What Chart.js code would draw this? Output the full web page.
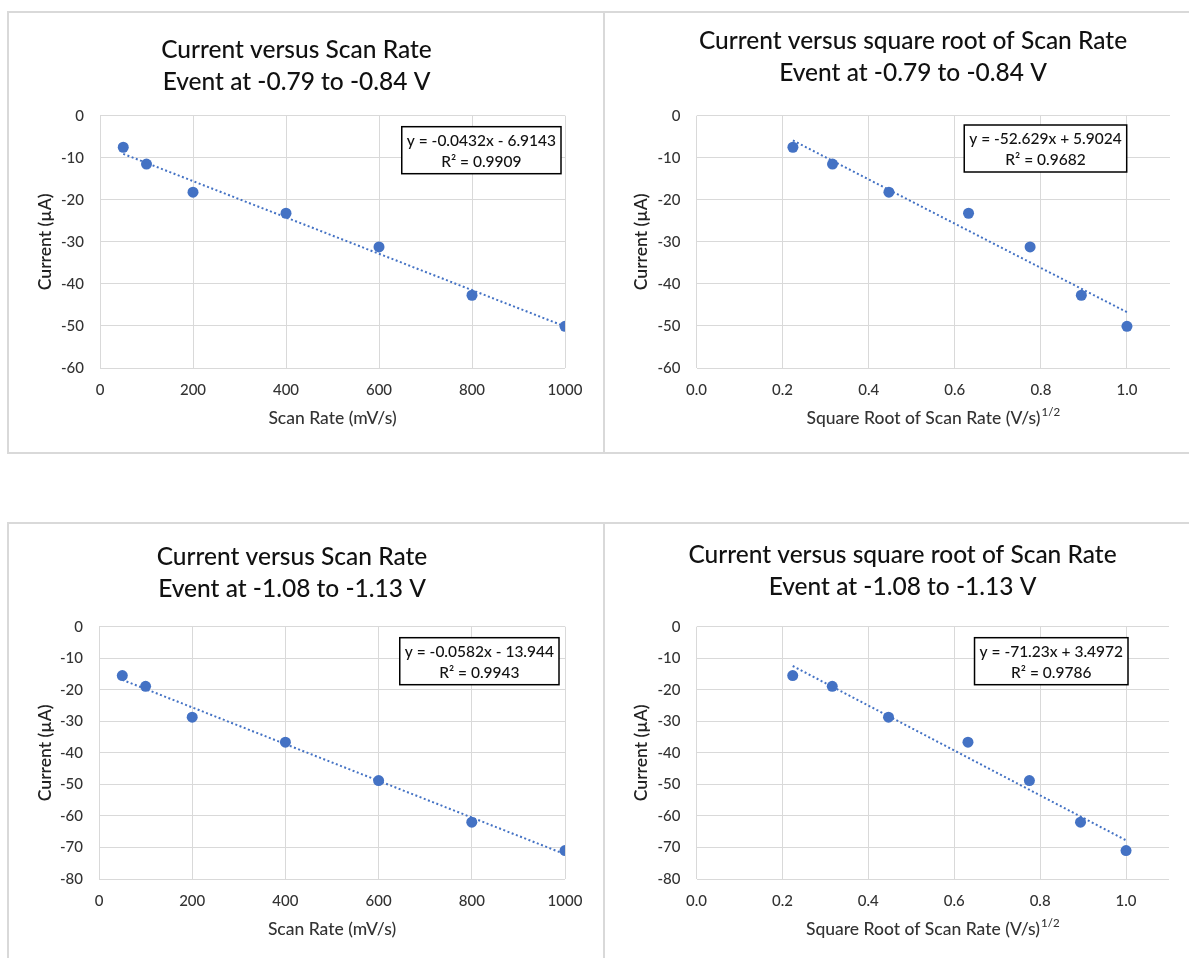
<!DOCTYPE html>
<html>
<head>
<meta charset="utf-8">
<script src="https://cdn.jsdelivr.net/npm/chart.js@4.4.1/dist/chart.umd.min.js"></script>
<style>
  html, body { margin: 0; padding: 0; background: #fff; width: 1189px; height: 958px; overflow: hidden; position: relative; }
  .panel { position: absolute; box-sizing: border-box; border: 2px solid #d9d9d9; background: #fff; }
  canvas { position: absolute; }
</style>
</head>
<body>
<div class="panel" style="left:7px; top:11px; width:598px; height:443px;"></div>
<div class="panel" style="left:603px; top:11px; width:700px; height:443px;"></div>
<div class="panel" style="left:7px; top:522px; width:598px; height:500px;"></div>
<div class="panel" style="left:603px; top:522px; width:700px; height:500px;"></div>

<canvas id="chartTL" width="577" height="436" style="left:8px; top:14px;"></canvas>
<canvas id="chartTR" width="594" height="436" style="left:616px; top:14px;"></canvas>
<canvas id="chartBL" width="584" height="436" style="left:0px; top:525px;"></canvas>
<canvas id="chartBR" width="613" height="436" style="left:596px; top:525px;"></canvas>

<script>
// data
const scanRates = [50, 100, 200, 400, 600, 800, 1000];              // mV/s
const sqrtScanRates = [0.224, 0.316, 0.447, 0.632, 0.775, 0.894, 1.0]; // (V/s)^1/2
const currentEvent1 = [-7.5, -11.5, -18.2, -23.2, -31.2, -42.7, -50.1];
const currentEvent2 = [-15.5, -18.9, -28.7, -36.6, -48.8, -62.0, -71.0];

// trendline equations shown on the charts
const fitScan1 = [-0.0432, -6.9143];
const fitSqrt1 = [-52.629, 5.9024];
const fitScan2 = [-0.0582, -13.944];
const fitSqrt2 = [-71.23, 3.4972];

const eqScan1 = ['y = -0.0432x - 6.9143', 'R² = 0.9909'];
const eqSqrt1 = ['y = -52.629x + 5.9024', 'R² = 0.9682'];
const eqScan2 = ['y = -0.0582x - 13.944', 'R² = 0.9943'];
const eqSqrt2 = ['y = -71.23x + 3.4972', 'R² = 0.9786'];

const titleScan1 = ['Current versus Scan Rate', 'Event at -0.79 to -0.84 V'];
const titleSqrt1 = ['Current versus square root of Scan Rate', 'Event at -0.79 to -0.84 V'];
const titleScan2 = ['Current versus Scan Rate', 'Event at -1.08 to -1.13 V'];
const titleSqrt2 = ['Current versus square root of Scan Rate', 'Event at -1.08 to -1.13 V'];

const xTitleScan = 'Scan Rate (mV/s)';
const xTitleSqrt = 'Square Root of Scan Rate (V/s)';
const xTitleSqrtSup = '1/2';
const yTitle = 'Current (µA)';

const FONT = "Lato, 'Open Sans', sans-serif";
const BLUE = '#4472C4';
const GRID = '#d9d9d9';
const TEXT = '#333333';

// boxed trendline equation in the upper right of the plot
const equationBox = {
  id: 'equationBox',
  afterDatasetsDraw(chart, args, opts) {
    const ctx = chart.ctx;
    const area = chart.chartArea;
    ctx.save();
    ctx.font = '500 15.5px ' + FONT;
    const w = Math.max(...opts.lines.map(t => ctx.measureText(t).width)) + 10;
    const right = area.right - opts.right;
    const top = area.top + opts.top;
    const left = right - w;
    ctx.fillStyle = '#fff';
    ctx.fillRect(left, top, w, 47);
    ctx.strokeStyle = '#000';
    ctx.lineWidth = 1.5;
    ctx.strokeRect(left, top, w, 47);
    ctx.fillStyle = '#111';
    ctx.textAlign = 'center';
    ctx.textBaseline = 'middle';
    ctx.fillText(opts.lines[0], left + w / 2, top + 14);
    ctx.fillText(opts.lines[1], left + w / 2, top + 35);
    ctx.restore();
  }
};

// x axis title with a raised "1/2", centred under the plot
const supTitle = {
  id: 'supTitle',
  afterDraw(chart, args, opts) {
    if (!opts.text) return;
    const ctx = chart.ctx;
    const area = chart.chartArea;
    const mainFont = '500 17.5px ' + FONT;
    const supFont = '500 11.5px ' + FONT;
    ctx.save();
    ctx.font = mainFont;
    const w1 = ctx.measureText(opts.text).width;
    ctx.font = supFont;
    const w2 = ctx.measureText(opts.sup).width;
    const x = (area.left + area.right) / 2 - (w1 + w2 + 1) / 2;
    const y = area.bottom + 50.5;
    ctx.fillStyle = TEXT;
    ctx.textAlign = 'left';
    ctx.textBaseline = 'middle';
    ctx.font = mainFont;
    ctx.fillText(opts.text, x, y);
    ctx.font = supFont;
    ctx.fillText(opts.sup, x + w1 + 1, y - 6);
    ctx.restore();
  }
};

function buildChart(id, c) {
  const points = c.xs.map((x, i) => ({ x: x, y: c.ys[i] }));
  const x0 = c.xs[0], x1 = c.xs[c.xs.length - 1];
  const trend = [
    { x: x0, y: c.fit[0] * x0 + c.fit[1] },
    { x: x1, y: c.fit[0] * x1 + c.fit[1] }
  ];
  const hasSup = !!c.xSup;

  return new Chart(document.getElementById(id), {
    type: 'scatter',
    data: {
      datasets: [
        {
          data: trend,
          showLine: true,
          borderColor: BLUE,
          borderWidth: 2,
          borderDash: [2, 2.5],
          pointRadius: 0,
          fill: false,
          order: 0
        },
        {
          data: points,
          backgroundColor: BLUE,
          borderWidth: 0,
          pointRadius: 5.5,
          pointHoverRadius: 5.5,
          order: 1
        }
      ]
    },
    options: {
      responsive: false,
      animation: false,
      events: [],
      layout: { padding: { left: c.pad, right: c.pad, top: 0, bottom: 20 } },
      plugins: {
        legend: { display: false },
        tooltip: { enabled: false },
        title: {
          display: true,
          text: c.title,
          color: '#111',
          font: { family: FONT, size: 24.5, weight: 500, lineHeight: '32px' },
          padding: { top: c.titleTop, bottom: c.titleBottom }
        },
        equationBox: { lines: c.eq, right: c.eqRight, top: c.eqTop },
        supTitle: { text: hasSup ? c.xTitle : null, sup: c.xSup }
      },
      scales: {
        x: {
          type: 'linear',
          min: 0,
          max: c.xMax,
          afterFit: s => { s.height = 62; },
          ticks: {
            stepSize: c.xStep,
            includeBounds: false,
            padding: 0,
            color: TEXT,
            font: { family: FONT, size: 15, weight: 500 },
            callback: c.xFormat
          },
          grid: { color: GRID, lineWidth: 1, drawTicks: true, tickLength: 13.5, tickColor: 'rgba(0,0,0,0)' },
          border: { display: false },
          title: {
            display: !hasSup,
            text: c.xTitle,
            color: TEXT,
            font: { family: FONT, size: 17.5, weight: 500 },
            padding: { top: 0, bottom: 1.2 }
          }
        },
        y: {
          min: c.yMin,
          max: 0,
          afterFit: s => { s.width = c.yWidth; },
          ticks: {
            stepSize: 10,
            padding: 16,
            color: TEXT,
            font: { family: FONT, size: 15, weight: 500 }
          },
          grid: { color: GRID, lineWidth: 1, drawTicks: false },
          border: { display: false },
          title: {
            display: true,
            text: yTitle,
            color: '#222',
            font: { family: FONT, size: 17.5, weight: 600 },
            padding: { top: c.yTitlePad, bottom: 0 }
          }
        }
      }
    },
    plugins: [equationBox, supTitle]
  });
}

const fmtScan = v => v;
const fmtSqrt = v => Number(v).toFixed(1);

buildChart('chartTL', {
  xs: scanRates, ys: currentEvent1, fit: fitScan1, eq: eqScan1, title: titleScan1,
  xTitle: xTitleScan, xMax: 1000, xStep: 200, xFormat: fmtScan, yMin: -60,
  pad: 20, yWidth: 72, yTitlePad: 6.5, titleTop: 20, titleBottom: 17.7, eqRight: 4, eqTop: 11
});
buildChart('chartTR', {
  xs: sqrtScanRates, ys: currentEvent1, fit: fitSqrt1, eq: eqSqrt1, title: titleSqrt1,
  xTitle: xTitleSqrt, xSup: xTitleSqrtSup, xMax: 1.1, xStep: 0.2, xFormat: fmtSqrt, yMin: -60,
  pad: 40, yWidth: 40.5, yTitlePad: -25.3, titleTop: 11.2, titleBottom: 26.5, eqRight: 43.3, eqTop: 9.3
});
buildChart('chartBL', {
  xs: scanRates, ys: currentEvent2, fit: fitScan2, eq: eqScan2, title: titleScan2,
  xTitle: xTitleScan, xMax: 1000, xStep: 200, xFormat: fmtScan, yMin: -80,
  pad: 19, yWidth: 80, yTitlePad: 15.7, titleTop: 15.7, titleBottom: 22, eqRight: 6, eqTop: 11
});
buildChart('chartBR', {
  xs: sqrtScanRates, ys: currentEvent2, fit: fitSqrt2, eq: eqSqrt2, title: titleSqrt2,
  xTitle: xTitleSqrt, xSup: xTitleSqrtSup, xMax: 1.1, xStep: 0.2, xFormat: fmtSqrt, yMin: -80,
  pad: 40, yWidth: 60.5, yTitlePad: -5.3, titleTop: 14.5, titleBottom: 23.2, eqRight: 41, eqTop: 11
});
</script>
</body>
</html>
